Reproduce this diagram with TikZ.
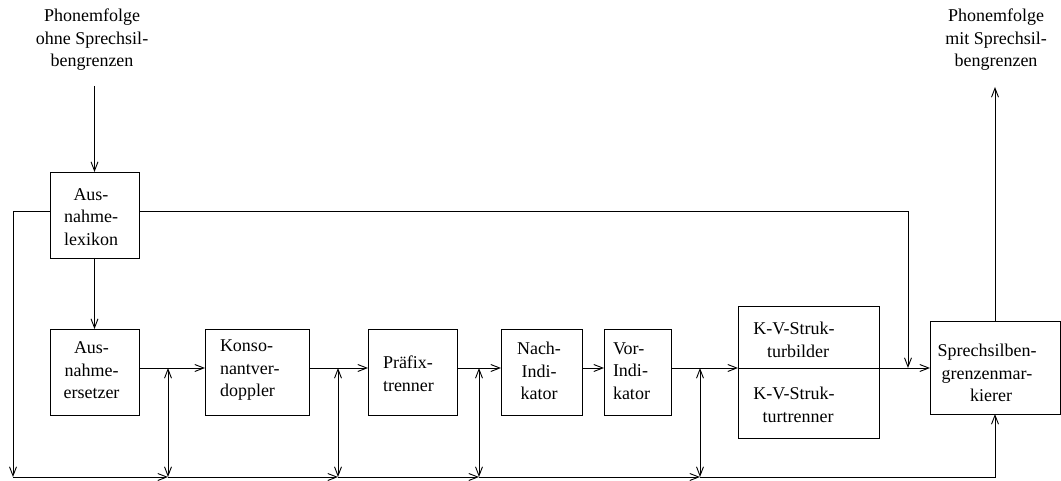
\documentclass[tikz,border=0pt]{standalone}
\usepackage{fontspec}
\setmainfont{Liberation Serif}
\usetikzlibrary{arrows.meta}
\begin{document}
\begin{tikzpicture}[x=1pt,y=-1pt,
  every path/.style={line width=0.9pt},
  box/.style={draw,line width=0.9pt,rectangle,inner sep=0pt,outer sep=0pt},
  txt/.style={inner sep=0pt,outer sep=0pt,font=\fontsize{18}{22.5}\selectfont},
  tip/.style={-{Straight Barb[length=9pt,width=7pt]}},
  dtip/.style={{Straight Barb[length=9pt,width=7pt]}-{Straight Barb[length=9pt,width=7pt]}}]
\useasboundingbox (0,0) rectangle (1061,481);
% boxes
\node[box,minimum width=89pt,minimum height=86pt] (lex) at (94.5,215) {};
\node[box,minimum width=89pt,minimum height=86pt] (ers) at (94.5,372) {};
\node[box,minimum width=104pt,minimum height=86pt] (kon) at (257,372) {};
\node[box,minimum width=89pt,minimum height=86pt] (pra) at (412.5,372) {};
\node[box,minimum width=81pt,minimum height=86pt] (nach) at (541.5,372) {};
\node[box,minimum width=67pt,minimum height=86pt] (vor) at (637.5,372) {};
\node[box,minimum width=141pt,minimum height=62pt] (kva) at (808.5,337) {};
\node[box,minimum width=141pt,minimum height=70pt] (kvb) at (808.5,403) {};
\node[box,minimum width=130pt,minimum height=93pt] (spr) at (995,367.5) {};
% texts
\node[txt,align=center] (inT) at (92,40) {Phonemfolge\\ohne Sprechsil-\\bengrenzen};
\node[txt,align=center] (outT) at (996,40) {Phonemfolge\\mit Sprechsil-\\bengrenzen};
\node[txt,align=center] (lexT) at (91,217) {Aus-\\nahme-\\lexikon};
\node[txt,align=center] (ersT) at (91.5,370.5) {Aus-\\nahme-\\ersetzer};
\node[txt,align=left,anchor=west] (konT) at (220,370.5) {Konso-\\nantver-\\doppler};
\node[txt,align=left,anchor=west] (praT) at (383,374) {Pr\"afix-\\trenner};
\node[txt,align=center] (nachT) at (539,371) {Nach-\\Indi-\\kator};
\node[txt,align=left,anchor=west] (vorT) at (613,371) {Vor-\\Indi-\\kator};
\node[txt,align=center] (kvaT) at (794,340) {K-V-Struk-\\\hspace*{8pt}turbilder};
\node[txt,align=center] (kvbT) at (794,405) {K-V-Struk-\\\hspace*{8pt}turtrenner};
\node[txt,align=center] (sprT) at (987,373) {Sprechsilben-\\grenzenmar-\\\hspace*{8pt}kierer};
% coordinates
\coordinate (my) at (0,368);
\coordinate (by) at (0,477);
\coordinate (ly) at (0,211);
\coordinate (inS) at (94.5,86);
\coordinate (outE) at (995,87);
\coordinate (lb) at (13,211);
\coordinate (b0) at (13,477);
\coordinate (j1) at (168,368);
\coordinate (j2) at (338,368);
\coordinate (j3) at (479,368);
\coordinate (j4) at (700,368);
\coordinate (rt) at (908,211);
\coordinate (rd) at (908,368);
% connectors
\draw[tip] (inS) -- (lex.north);
\draw[tip] (spr.north) -- (outE);
\draw[tip] (lex.south) -- (ers.north);
\draw[tip] (lex.west |- ly) -- (lb) -- (b0);
\draw[tip] (lex.east |- ly) -- (rt) -- (rd);
\draw[tip] (ers.east |- my) -- (kon.west |- my);
\draw[tip] (kon.east |- my) -- (pra.west |- my);
\draw[tip] (pra.east |- my) -- (nach.west |- my);
\draw[tip] (nach.east |- my) -- (vor.west |- my);
\draw[tip] (vor.east |- my) -- (kva.south west);
\draw[tip] (kva.south east) -- (spr.west |- my);
\draw[dtip] (j1) -- (j1 |- by);
\draw[dtip] (j2) -- (j2 |- by);
\draw[dtip] (j3) -- (j3 |- by);
\draw[dtip] (j4) -- (j4 |- by);
\draw[tip] (b0) -- (j1 |- by);
\draw[tip] (j1 |- by) -- (j2 |- by);
\draw[tip] (j2 |- by) -- (j3 |- by);
\draw[tip] (j3 |- by) -- (j4 |- by);
\draw[tip] (j4 |- by) -- (spr.south |- by) -- (spr.south);
\end{tikzpicture}
\end{document}
